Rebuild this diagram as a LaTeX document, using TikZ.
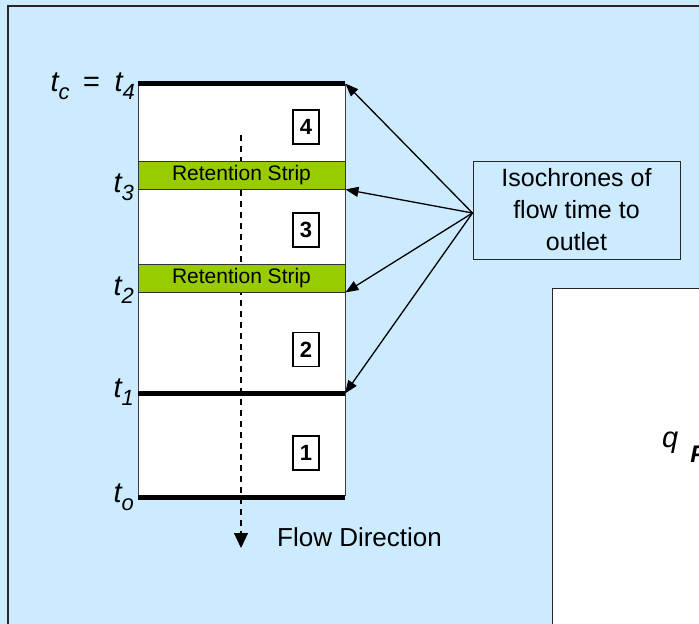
\documentclass[tikz,border=0pt]{standalone}
\usepackage{fontspec}
\setmainfont{Liberation Sans}
\usetikzlibrary{arrows.meta}
\definecolor{bgblue}{HTML}{CCEBFF}
\definecolor{stripgreen}{HTML}{99CC00}
\newcommand\isub[1]{\raisebox{-8pt}{\fontsize{22}{22}\selectfont\itshape #1}}
\begin{document}
\begin{tikzpicture}[x=1pt,y=-1pt,
  zone/.style={draw=black!75, line width=0.9pt, fill=white, inner sep=0pt},
  stripbox/.style={draw=black!80, line width=0.9pt, fill=stripgreen, inner sep=0pt,
    minimum width=207pt, minimum height=28pt, font=\fontsize{21}{21}\selectfont},
  numbox/.style={draw=black, line width=1.1pt, fill=white, inner sep=0pt,
    minimum width=26pt, minimum height=34pt, font=\bfseries\fontsize{22}{22}\selectfont},
  tlabel/.style={anchor=base east, inner sep=0pt, font=\itshape\fontsize{29}{29}\selectfont},
  thickline/.style={line width=4.5pt, black},
  isoarrow/.style={line width=1.3pt, -{Triangle[length=13pt,width=10pt]}},
]
\useasboundingbox (0,0) rectangle (699,624);
\clip (0,0) rectangle (699,624);
\fill[bgblue] (0,0) rectangle (699,624);
% outer frame
\draw[line width=2pt, black!85] (8,640) -- (8,5.5) -- (720,5.5);
% lower right white box
\fill[white] (552.5,288.5) rectangle (720,640);
\draw[line width=1pt, black!85] (552.5,640) -- (552.5,288.5) -- (720,288.5);
\node[anchor=base west, inner sep=0pt, font=\itshape\fontsize{29}{29}\selectfont] (qp)
  at (662,447) {q\hspace{12pt}\raisebox{-15pt}{\fontsize{24}{24}\selectfont\bfseries\itshape P}};
% column
\node[zone, minimum width=207pt, minimum height=411pt] (col) at (241.5,289.5) {};
% dashed flow direction
\coordinate (dtop) at (241,135);
\coordinate (dbot) at (241,548);
\draw[line width=1.2pt, dash pattern=on 6pt off 5pt, -{Triangle[length=15pt,width=14pt]}] (dtop) -- (dbot);
% strips
\node[stripbox] (s1) at (241.5,175) {Retention Strip};
\node[stripbox] (s2) at (241.5,278) {Retention Strip};
% thick isochrone lines
\coordinate (t1w) at (138,393.5);
\coordinate (t1e) at (345,393.5);
\draw[thickline] (col.north west) -- (col.north east);
\draw[thickline] (t1w) -- (t1e);
\draw[thickline] ([yshift=-2pt]col.south west) -- ([yshift=-2pt]col.south east);
% numbers
\node[numbox] (n4) at (306,127) {4};
\node[numbox] (n3) at (306,230) {3};
\node[numbox] (n2) at (306,349.5) {2};
\node[numbox] (n1) at (306,453) {1};
% t labels
\node[tlabel] (lt4) at (135,91) {t\isub{c}\hspace{13pt}=\hspace{15pt}t\isub{4}};
\node[tlabel] (lt3) at (134,192) {t\isub{3}};
\node[tlabel] (lt2) at (134,295) {t\isub{2}};
\node[tlabel] (lt1) at (134,397) {t\isub{1}};
\node[tlabel] (lt0) at (134,502) {t\isub{o}};
% flow direction label
\node[anchor=base west, inner sep=0pt, font=\fontsize{26}{26}\selectfont] (flow) at (277,546) {Flow Direction};
% isochrones box
\node[draw=black!85, line width=1pt, fill=bgblue, minimum width=207pt, minimum height=98pt,
  align=center, inner sep=0pt, font=\fontsize{25}{32}\selectfont] (iso) at (576.5,210)
  {Isochrones of\\flow time to\\outlet};
\coordinate (src) at ([yshift=-3pt]iso.west);
\draw[isoarrow] (src) -- (col.north east);
\draw[isoarrow] (src) -- (s1.south east);
\draw[isoarrow] (src) -- (s2.south east);
\draw[isoarrow] (src) -- (t1e);
\end{tikzpicture}
\end{document}
